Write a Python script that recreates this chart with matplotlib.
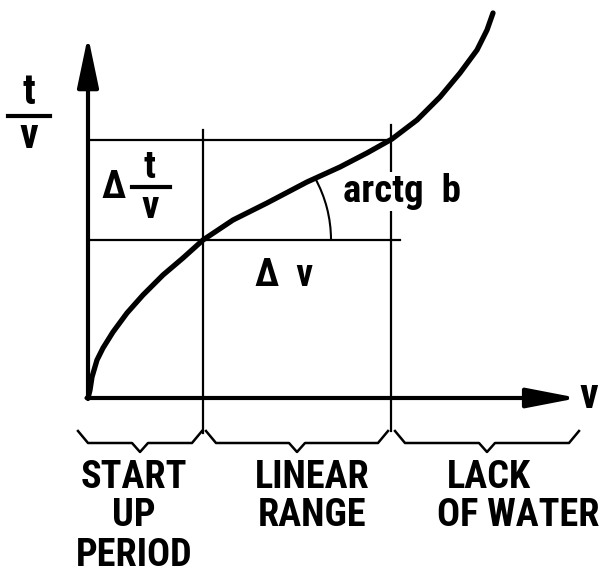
import matplotlib
matplotlib.use('Agg')
import matplotlib.pyplot as plt
from matplotlib.patches import Arc

plt.rcParams['font.family'] = ['Roboto Condensed', 'DejaVu Sans']

# curve t/v against v (arbitrary units)
v = [0, 0.02, 0.04, 0.09, 0.15, 0.25, 0.39, 0.55, 0.75, 0.95, 1.15, 1.45, 1.79,
     2.19, 2.52, 2.79, 3.04, 3.29, 3.52, 3.72, 3.89, 3.99, 4.05]
tv = [0, 0.08, 0.21, 0.38, 0.50, 0.66, 0.85, 1.03, 1.23, 1.40, 1.58, 1.78, 1.95,
      2.16, 2.31, 2.45, 2.59, 2.78, 3.01, 3.25, 3.48, 3.68, 3.85]

# linear range limits
v_lo, v_hi = 1.15, 3.03
tv_lo, tv_hi = 1.58, 2.58

# region braces and their labels
brace_x = [(-0.10, 1.14), (1.18, 3.00), (3.07, 4.91)]
region_lines = [
    [('START', 0.46), ('UP', 0.46), ('PERIOD', 0.46)],
    [('LINEAR', 2.24), ('RANGE', 2.24)],
    [('LACK', 4.01), ('OF WATER', 4.30)],
]
line_y = [-0.79, -1.18, -1.58]

fig = plt.figure(figsize=(6.07, 5.76), dpi=100)
ax = fig.add_axes([0, 0, 1, 1])
ax.set_xlim(-0.88, 5.19)
ax.set_ylim(-1.78, 3.98)
ax.axis('off')

# axes with arrows
ax.annotate('', xy=(0, 3.62), xytext=(0, -0.01),
            arrowprops=dict(arrowstyle='-|>,head_length=3.1,head_width=0.65',
                            lw=3, color='k', mutation_scale=10, shrinkA=0, shrinkB=0))
ax.annotate('', xy=(4.90, 0), xytext=(-0.015, 0),
            arrowprops=dict(arrowstyle='-|>,head_length=3.1,head_width=0.6',
                            lw=3, color='k', mutation_scale=10, shrinkA=0, shrinkB=0))

# guide lines
ax.plot([0, v_hi], [tv_hi, tv_hi], color='k', lw=1.6)
ax.plot([0, v_hi + 0.09], [tv_lo, tv_lo], color='k', lw=1.6)
ax.plot([v_lo, v_lo], [tv_hi + 0.1, -0.35], color='k', lw=1.6)
ax.plot([v_hi, v_hi], [tv_hi + 0.15, -0.33], color='k', lw=1.6)

# the curve
ax.plot(v, tv, color='k', lw=3.8, solid_capstyle='round', solid_joinstyle='round')

# slope angle arc
ax.add_patch(Arc((v_lo, tv_lo), 2.56, 2.56, theta1=0, theta2=29, color='k', lw=1.5))

# braces
for x0, x1 in brace_x:
    xm = (x0 + x1) / 2
    ax.plot([x0, x0 + 0.1, xm - 0.08, xm, xm + 0.08, x1 - 0.1, x1],
            [-0.33, -0.45, -0.45, -0.54, -0.45, -0.45, -0.33], color='k', lw=1.8)

fs = 27.5
for lines in region_lines:
    for (txt, xc), yy in zip(lines, line_y):
        ax.text(xc, yy, txt, ha='center', va='center', fontsize=fs, fontweight='bold')

# y axis label t / v
ax.text(-0.59, 3.06, 't', ha='center', va='center', fontsize=30, fontweight='bold')
ax.plot([-0.80, -0.38], [2.82, 2.82], color='k', lw=3)
ax.text(-0.59, 2.61, 'v', ha='center', va='center', fontsize=30, fontweight='bold')

# delta t/v
ax.text(0.25, 2.11, 'Δ', ha='center', va='center', fontsize=27, fontweight='bold')
ax.text(0.62, 2.31, 't', ha='center', va='center', fontsize=28, fontweight='bold')
ax.plot([0.44, 0.82], [2.11, 2.11], color='k', lw=3)
ax.text(0.62, 1.90, 'v', ha='center', va='center', fontsize=28, fontweight='bold')

ax.text(3.14, 1.96, 'arctg  b', ha='center', va='baseline', fontsize=28, fontweight='bold',
        bbox=dict(facecolor='white', edgecolor='none', pad=0.5))
ax.text(1.96, 1.23, 'Δ  v', ha='center', va='center', fontsize=27, fontweight='bold')
ax.text(5.01, 0.01, 'v', ha='center', va='center', fontsize=30, fontweight='bold')

fig.savefig('out.png', dpi=100)
